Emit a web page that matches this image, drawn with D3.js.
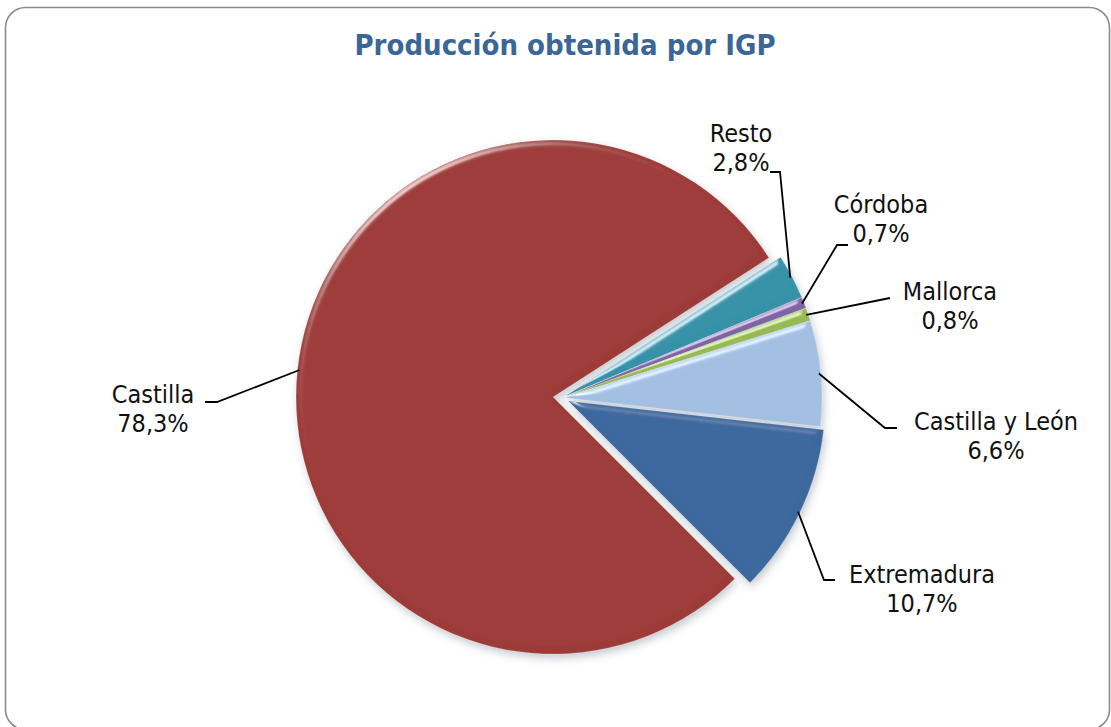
<!DOCTYPE html>
<html>
<head>
<meta charset="utf-8">
<script src="https://cdn.jsdelivr.net/npm/d3@7"></script>
<style>
    body { margin: 0; background: #fff; }
    .lbl { font-family: "DejaVu Sans Condensed", "DejaVu Sans", sans-serif; font-stretch: condensed; font-size: 25px; fill: #111; }
    .title { font-family: "DejaVu Sans Condensed", "DejaVu Sans", sans-serif; font-stretch: condensed; font-weight: bold; font-size: 29px; fill: #3b6695; }
</style>
</head>
<body>
<div id="chart"></div>
<script>
(function() {
    var width = 1111,
        height = 727;

    // data
    var regions = ["Castilla", "Resto", "Córdoba", "Mallorca", "Castilla y León", "Extremadura"];
    var shares = [78.3, 2.8, 0.7, 0.8, 6.6, 10.7];
    var colors = ["#9d3a37", "#3592a8", "#8063a6", "#98ba55", "#a3bfe2", "#3b679d"];

    // layout of labels / explode, not data
    var explode = [9, 3, 3, 3, 3, 7];
    var labelPos = [
        { x: 153, y: 403, pts: [[217, 402], [205, 402]] },
        { x: 741, y: 142, pts: [[780, 172], [770, 172]] },
        { x: 881, y: 213, pts: [[837, 245], [848, 245]] },
        { x: 950, y: 300, pts: [[890, 298]] },
        { x: 996, y: 430, pts: [[885, 428], [897, 428]] },
        { x: 922, y: 583, pts: [[824, 580], [835, 580]] }
    ];

    var cx = 562, cy = 398, radius = 257;
    var fmt = function(v) { return d3.format(".1f")(v).replace(".", ",") + "%"; };

    var svg = d3.select("#chart")
        .append("svg")
        .attr("width", width)
        .attr("height", height);

    // soft bevel + shadow
    var defs = svg.append("defs");
    var f = defs.append("filter")
        .attr("id", "bevel")
        .attr("x", "-20%").attr("y", "-20%")
        .attr("width", "140%").attr("height", "140%");
    f.append("feGaussianBlur").attr("in", "SourceAlpha").attr("stdDeviation", 3).attr("result", "blur");
    var spec = f.append("feSpecularLighting")
        .attr("in", "blur")
        .attr("surfaceScale", 4)
        .attr("specularConstant", 0.55)
        .attr("specularExponent", 30)
        .attr("lighting-color", "#ffffff")
        .attr("result", "spec");
    spec.append("feDistantLight").attr("azimuth", 235).attr("elevation", 25);
    f.append("feComposite").attr("in", "spec").attr("in2", "SourceAlpha").attr("operator", "in").attr("result", "specIn");
    f.append("feComposite").attr("in", "SourceGraphic").attr("in2", "specIn")
        .attr("operator", "arithmetic").attr("k1", 0).attr("k2", 1).attr("k3", 1).attr("k4", 0)
        .attr("result", "lit");
    f.append("feGaussianBlur").attr("in", "SourceAlpha").attr("stdDeviation", 4).attr("result", "sblur");
    f.append("feOffset").attr("in", "sblur").attr("dx", 2).attr("dy", 4).attr("result", "soff");
    f.append("feFlood").attr("flood-color", "#7d8a99").attr("flood-opacity", 0.45).attr("result", "sc");
    f.append("feComposite").attr("in", "sc").attr("in2", "soff").attr("operator", "in").attr("result", "shadow");
    var merge = f.append("feMerge");
    merge.append("feMergeNode").attr("in", "shadow");
    merge.append("feMergeNode").attr("in", "lit");

    // frame
    svg.append("rect")
        .attr("x", 5.5)
        .attr("y", 7.5)
        .attr("width", 1104)
        .attr("height", 722)
        .attr("rx", 20)
        .attr("fill", "#fff")
        .attr("stroke", "#8a8a8a")
        .attr("stroke-width", 1.6);

    svg.append("text")
        .attr("class", "title")
        .attr("x", 565)
        .attr("y", 55)
        .attr("text-anchor", "middle")
        .text("Producción obtenida por IGP");

    var data = regions.map(function(r, i) {
        return { name: r, value: shares[i], color: colors[i], idx: i };
    });

    var pie = d3.pie()
        .sort(null)
        .value(function(d) { return d.value; })
        .startAngle(Math.PI * 0.75)
        .endAngle(Math.PI * 2.75);

    var arc = d3.arc()
        .innerRadius(0)
        .outerRadius(radius);

    var arcs = pie(data);

    function shift(d) {
        var a = (d.startAngle + d.endAngle) / 2;
        var e = explode[d.data.idx];
        return [Math.sin(a) * e, -Math.cos(a) * e];
    }

    var g = svg.append("g")
        .attr("transform", "translate(" + cx + "," + cy + ")");

    g.selectAll(".slice")
        .data(arcs)
        .enter()
        .append("path")
        .attr("class", "slice")
        .attr("transform", function(d) {
            var s = shift(d);
            return "translate(" + s[0] + "," + s[1] + ")";
        })
        .attr("d", arc)
        .attr("fill", function(d) { return d.data.color; })
        .attr("stroke", "#ffffff")
        .attr("stroke-opacity", 0.2)
        .attr("stroke-width", 1)
        .attr("filter", "url(#bevel)");

    // leader lines
    var lines = svg.append("g");
    arcs.forEach(function(d) {
        var a = (d.startAngle + d.endAngle) / 2;
        var s = shift(d);
        var r0 = radius - 2;
        var start = [cx + s[0] + Math.sin(a) * r0, cy + s[1] - Math.cos(a) * r0];
        var pts = [start].concat(labelPos[d.data.idx].pts);
        lines.append("path")
            .attr("d", d3.line()(pts))
            .attr("fill", "none")
            .attr("stroke", "#000")
            .attr("stroke-width", 1.8);
    });

    var labels = svg.append("g");
    arcs.forEach(function(d) {
        var p = labelPos[d.data.idx];
        var t = labels.append("text")
            .attr("class", "lbl")
            .attr("text-anchor", "middle");
        t.append("tspan").attr("x", p.x).attr("y", p.y).text(d.data.name);
        t.append("tspan").attr("x", p.x).attr("y", p.y + 29).text(fmt(d.data.value));
    });
})();
</script>
</body>
</html>
